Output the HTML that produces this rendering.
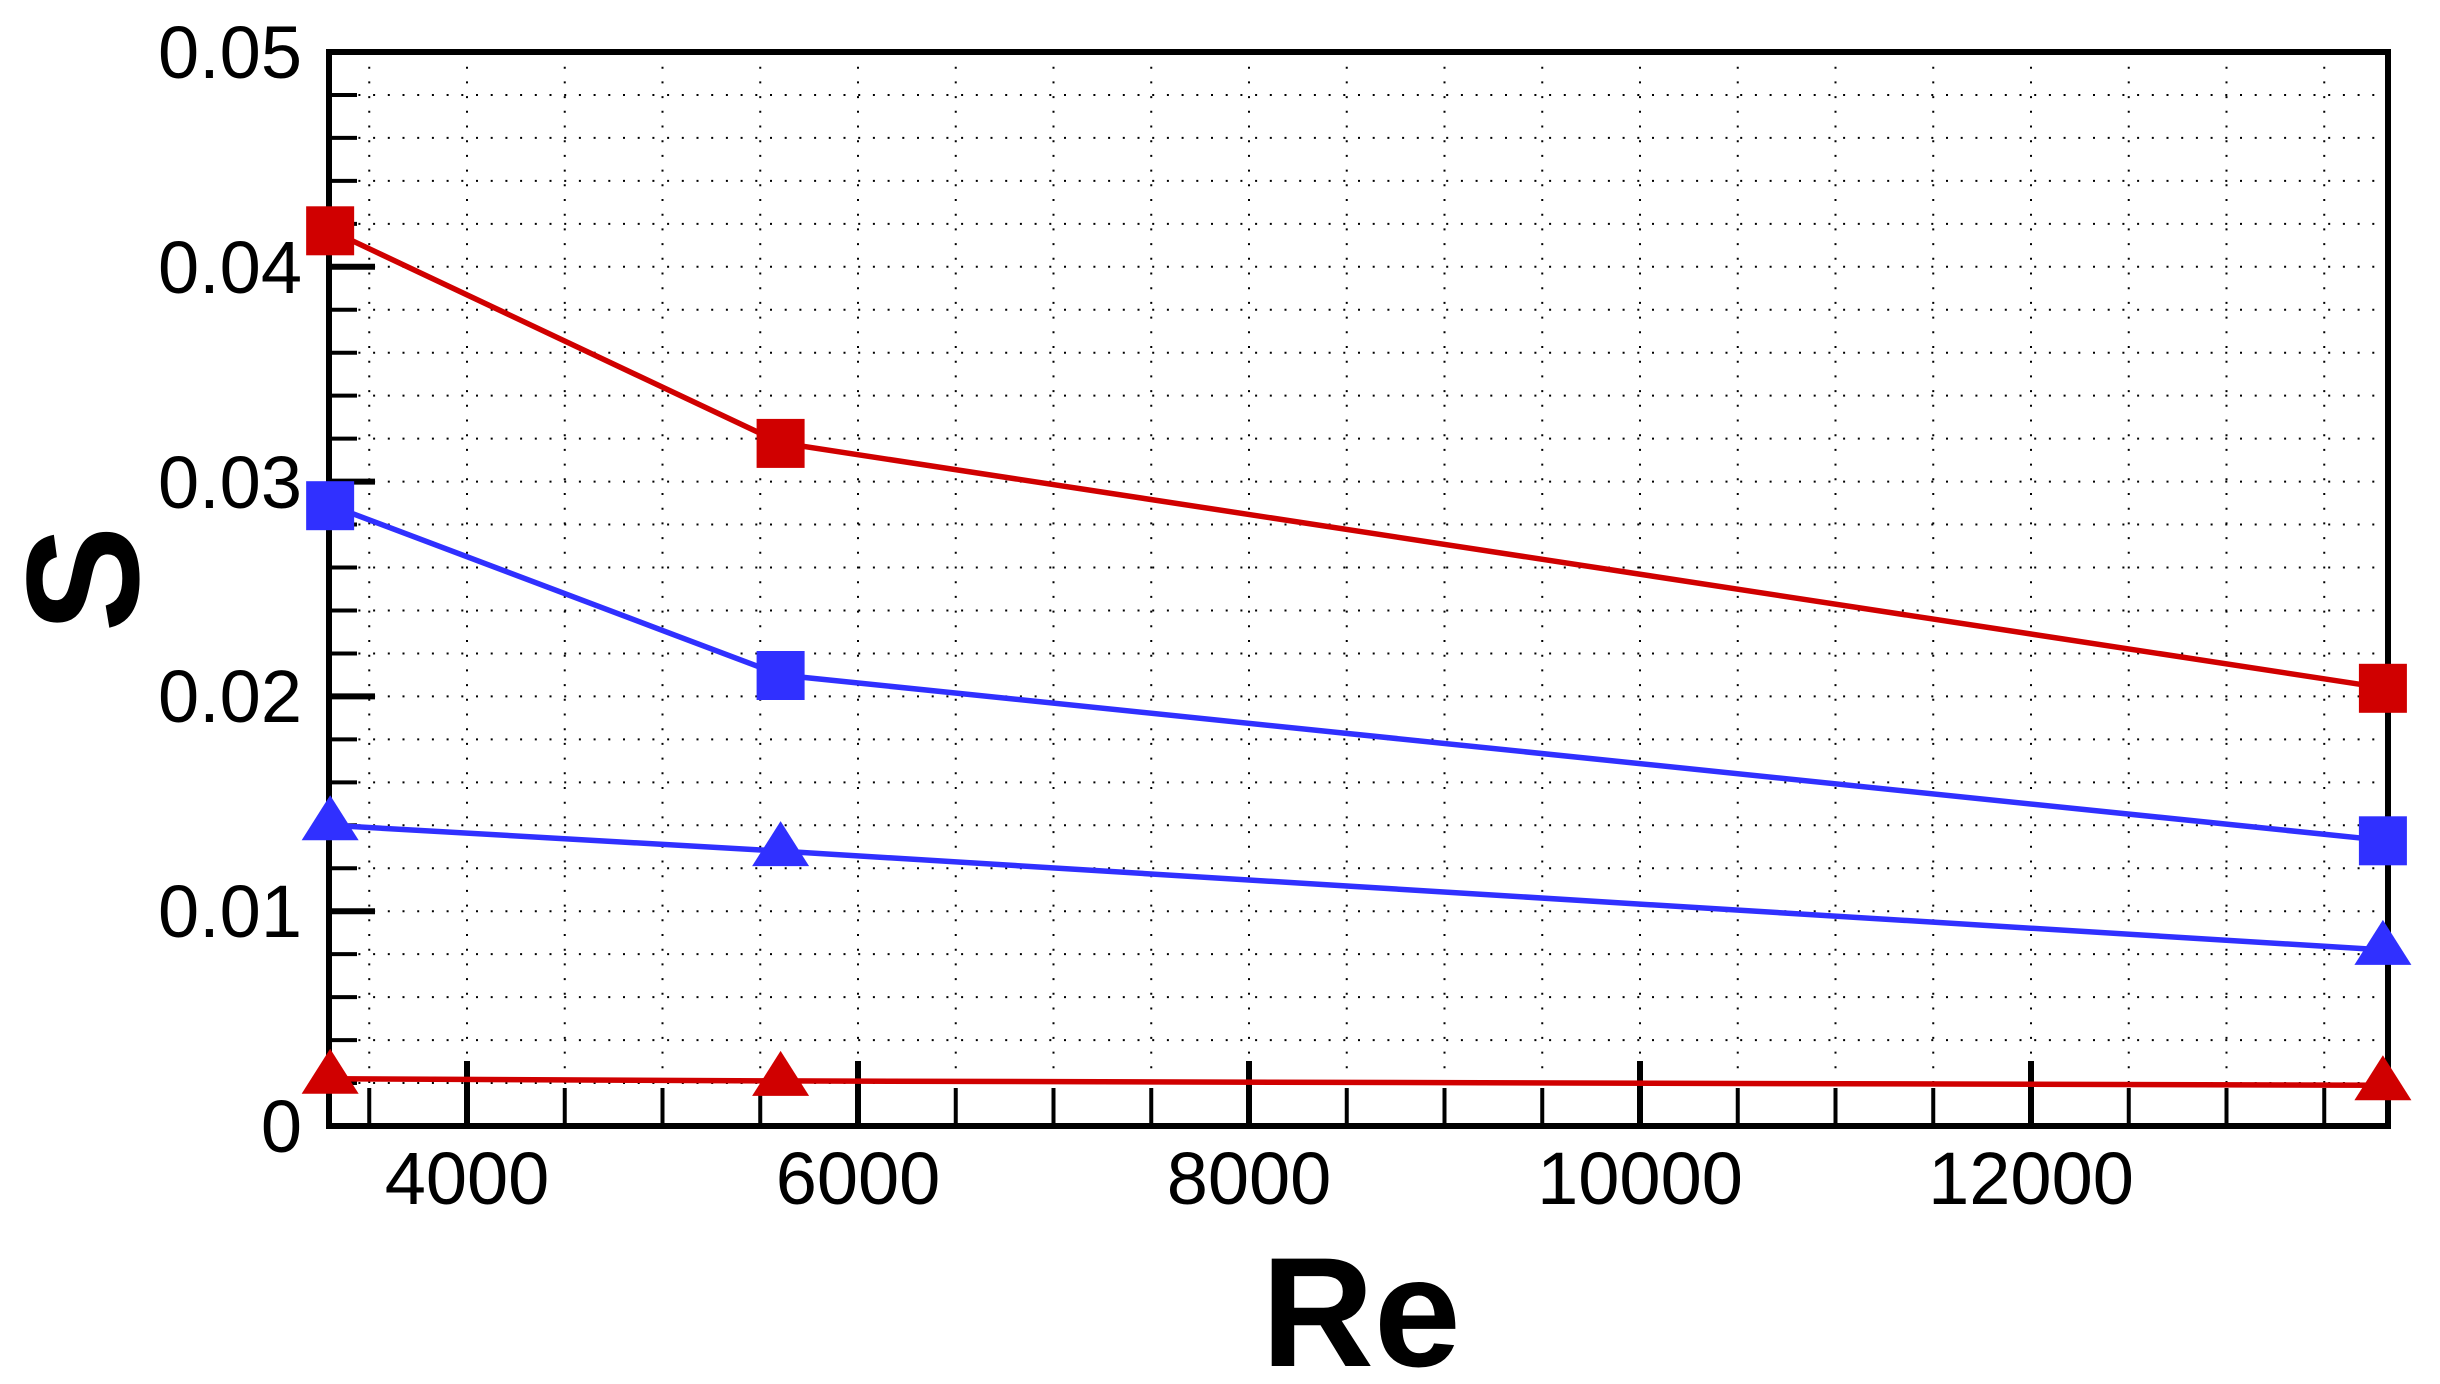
<!DOCTYPE html>
<html><head><style>html,body{margin:0;padding:0;background:#fff}svg{display:block}</style></head>
<body>
<svg width="2440" height="1384" xmlns="http://www.w3.org/2000/svg" font-family="Liberation Sans, Arial, sans-serif">
<g stroke="#000" stroke-width="2" stroke-dasharray="2 12.7">
<line x1="369.25" y1="52" x2="369.25" y2="1126"/>
<line x1="467" y1="52" x2="467" y2="1126"/>
<line x1="564.75" y1="52" x2="564.75" y2="1126"/>
<line x1="662.5" y1="52" x2="662.5" y2="1126"/>
<line x1="760.25" y1="52" x2="760.25" y2="1126"/>
<line x1="858" y1="52" x2="858" y2="1126"/>
<line x1="955.75" y1="52" x2="955.75" y2="1126"/>
<line x1="1053.5" y1="52" x2="1053.5" y2="1126"/>
<line x1="1151.25" y1="52" x2="1151.25" y2="1126"/>
<line x1="1249" y1="52" x2="1249" y2="1126"/>
<line x1="1346.75" y1="52" x2="1346.75" y2="1126"/>
<line x1="1444.5" y1="52" x2="1444.5" y2="1126"/>
<line x1="1542.25" y1="52" x2="1542.25" y2="1126"/>
<line x1="1640" y1="52" x2="1640" y2="1126"/>
<line x1="1737.75" y1="52" x2="1737.75" y2="1126"/>
<line x1="1835.5" y1="52" x2="1835.5" y2="1126"/>
<line x1="1933.25" y1="52" x2="1933.25" y2="1126"/>
<line x1="2031" y1="52" x2="2031" y2="1126"/>
<line x1="2128.75" y1="52" x2="2128.75" y2="1126"/>
<line x1="2226.5" y1="52" x2="2226.5" y2="1126"/>
<line x1="2324.25" y1="52" x2="2324.25" y2="1126"/>
<line x1="329" y1="1083.04" x2="2388" y2="1083.04"/>
<line x1="329" y1="1040.08" x2="2388" y2="1040.08"/>
<line x1="329" y1="997.12" x2="2388" y2="997.12"/>
<line x1="329" y1="954.16" x2="2388" y2="954.16"/>
<line x1="329" y1="911.2" x2="2388" y2="911.2"/>
<line x1="329" y1="868.24" x2="2388" y2="868.24"/>
<line x1="329" y1="825.28" x2="2388" y2="825.28"/>
<line x1="329" y1="782.32" x2="2388" y2="782.32"/>
<line x1="329" y1="739.36" x2="2388" y2="739.36"/>
<line x1="329" y1="696.4" x2="2388" y2="696.4"/>
<line x1="329" y1="653.44" x2="2388" y2="653.44"/>
<line x1="329" y1="610.48" x2="2388" y2="610.48"/>
<line x1="329" y1="567.52" x2="2388" y2="567.52"/>
<line x1="329" y1="524.56" x2="2388" y2="524.56"/>
<line x1="329" y1="481.6" x2="2388" y2="481.6"/>
<line x1="329" y1="438.64" x2="2388" y2="438.64"/>
<line x1="329" y1="395.68" x2="2388" y2="395.68"/>
<line x1="329" y1="352.72" x2="2388" y2="352.72"/>
<line x1="329" y1="309.76" x2="2388" y2="309.76"/>
<line x1="329" y1="266.8" x2="2388" y2="266.8"/>
<line x1="329" y1="223.84" x2="2388" y2="223.84"/>
<line x1="329" y1="180.88" x2="2388" y2="180.88"/>
<line x1="329" y1="137.92" x2="2388" y2="137.92"/>
<line x1="329" y1="94.96" x2="2388" y2="94.96"/>
</g>
<g stroke="#000" stroke-width="4">
<line x1="369.25" y1="1126" x2="369.25" y2="1088"/>
<line x1="564.75" y1="1126" x2="564.75" y2="1088"/>
<line x1="662.5" y1="1126" x2="662.5" y2="1088"/>
<line x1="760.25" y1="1126" x2="760.25" y2="1088"/>
<line x1="955.75" y1="1126" x2="955.75" y2="1088"/>
<line x1="1053.5" y1="1126" x2="1053.5" y2="1088"/>
<line x1="1151.25" y1="1126" x2="1151.25" y2="1088"/>
<line x1="1346.75" y1="1126" x2="1346.75" y2="1088"/>
<line x1="1444.5" y1="1126" x2="1444.5" y2="1088"/>
<line x1="1542.25" y1="1126" x2="1542.25" y2="1088"/>
<line x1="1737.75" y1="1126" x2="1737.75" y2="1088"/>
<line x1="1835.5" y1="1126" x2="1835.5" y2="1088"/>
<line x1="1933.25" y1="1126" x2="1933.25" y2="1088"/>
<line x1="2128.75" y1="1126" x2="2128.75" y2="1088"/>
<line x1="2226.5" y1="1126" x2="2226.5" y2="1088"/>
<line x1="2324.25" y1="1126" x2="2324.25" y2="1088"/>
<line x1="329" y1="1083.04" x2="357" y2="1083.04"/>
<line x1="329" y1="1040.08" x2="357" y2="1040.08"/>
<line x1="329" y1="997.12" x2="357" y2="997.12"/>
<line x1="329" y1="954.16" x2="357" y2="954.16"/>
<line x1="329" y1="868.24" x2="357" y2="868.24"/>
<line x1="329" y1="825.28" x2="357" y2="825.28"/>
<line x1="329" y1="782.32" x2="357" y2="782.32"/>
<line x1="329" y1="739.36" x2="357" y2="739.36"/>
<line x1="329" y1="653.44" x2="357" y2="653.44"/>
<line x1="329" y1="610.48" x2="357" y2="610.48"/>
<line x1="329" y1="567.52" x2="357" y2="567.52"/>
<line x1="329" y1="524.56" x2="357" y2="524.56"/>
<line x1="329" y1="438.64" x2="357" y2="438.64"/>
<line x1="329" y1="395.68" x2="357" y2="395.68"/>
<line x1="329" y1="352.72" x2="357" y2="352.72"/>
<line x1="329" y1="309.76" x2="357" y2="309.76"/>
<line x1="329" y1="223.84" x2="357" y2="223.84"/>
<line x1="329" y1="180.88" x2="357" y2="180.88"/>
<line x1="329" y1="137.92" x2="357" y2="137.92"/>
<line x1="329" y1="94.96" x2="357" y2="94.96"/>
</g>
<g stroke="#000" stroke-width="6">
<line x1="467" y1="1126" x2="467" y2="1061"/>
<line x1="858" y1="1126" x2="858" y2="1061"/>
<line x1="1249" y1="1126" x2="1249" y2="1061"/>
<line x1="1640" y1="1126" x2="1640" y2="1061"/>
<line x1="2031" y1="1126" x2="2031" y2="1061"/>
<line x1="329" y1="911.2" x2="375" y2="911.2"/>
<line x1="329" y1="696.4" x2="375" y2="696.4"/>
<line x1="329" y1="481.6" x2="375" y2="481.6"/>
<line x1="329" y1="266.8" x2="375" y2="266.8"/>
<rect x="329" y="52" width="2059" height="1074" fill="none"/>
</g>
<g font-size="74" fill="#000" text-anchor="middle">
<text x="467" y="1204">4000</text>
<text x="858" y="1204">6000</text>
<text x="1249" y="1204">8000</text>
<text x="1640" y="1204">10000</text>
<text x="2031" y="1204">12000</text>
</g>
<g font-size="74" fill="#000" text-anchor="end">
<text x="302" y="1152">0</text>
<text x="302" y="937">0.01</text>
<text x="302" y="722">0.02</text>
<text x="302" y="508">0.03</text>
<text x="302" y="293">0.04</text>
<text x="302" y="78">0.05</text>
</g>
<g fill="none" stroke-width="5.5">
<polyline stroke="#d00000" points="330.15,230.3 780.6,442.9 2382.9,687.8"/>
<polyline stroke="#3030ff" points="330.15,505.2 780.6,675 2382.9,840.3"/>
<polyline stroke="#3030ff" points="330.15,825.3 780.6,851.1 2382.9,949.9"/>
<polyline stroke="#d00000" points="330.15,1078.7 780.6,1080.9 2382.9,1085.2"/>
</g>
<g fill="#d00000">
<rect x="306.15" y="206.3" width="48" height="49"/>
<rect x="756.6" y="418.9" width="48" height="49"/>
<rect x="2358.9" y="663.8" width="48" height="49"/>
<polygon points="330.15,1048.7 301.65,1093.7 358.65,1093.7"/>
<polygon points="780.6,1050.9 752.1,1095.9 809.1,1095.9"/>
<polygon points="2382.9,1055.2 2354.4,1100.2 2411.4,1100.2"/>
</g>
<g fill="#3030ff">
<rect x="306.15" y="481.2" width="48" height="49"/>
<rect x="756.6" y="651" width="48" height="49"/>
<rect x="2358.9" y="816.3" width="48" height="49"/>
<polygon points="330.15,795.3 301.65,840.3 358.65,840.3"/>
<polygon points="780.6,821.1 752.1,866.1 809.1,866.1"/>
<polygon points="2382.9,919.9 2354.4,964.9 2411.4,964.9"/>
</g>
<text x="1361" y="1366" font-size="156" font-weight="bold" text-anchor="middle" fill="#000">Re</text>
<text transform="translate(138,579) rotate(-90)" font-size="160" font-weight="bold" text-anchor="middle" fill="#000">S</text>
</svg>
</body></html>
